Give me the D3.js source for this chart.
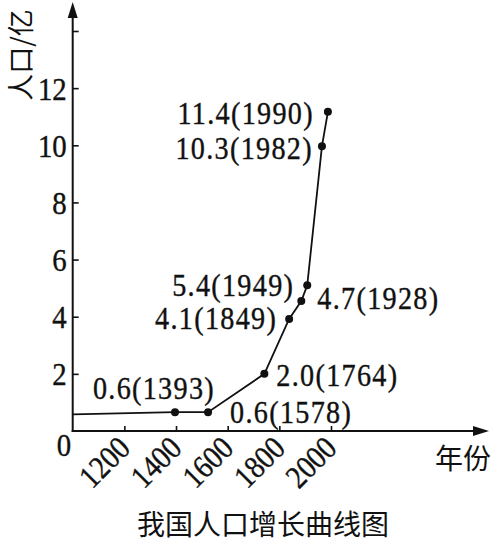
<!DOCTYPE html>
<html>
<head>
<meta charset="utf-8">
<script src="https://cdn.jsdelivr.net/npm/d3@7"></script>
<style>
  body { margin: 0; background: #fff; }
  svg { display: block; }
  .cjk { font-family: "Noto Sans CJK SC", sans-serif; fill: #111; }
</style>
</head>
<body>
<div id="chart"></div>
<script>
// positions of the points as drawn in the picture (year, population in 亿)
var plotYear = [1000, 1396, 1524, 1742, 1838, 1885, 1908, 1965, 1988];
var plotPop = [0.58, 0.66, 0.66, 2.0, 3.92, 4.55, 5.1, 9.97, 11.17];

// annotations written next to the points (skip the start point)
var labelPop = ['0.6', '0.6', '2.0', '4.1', '4.7', '5.4', '10.3', '11.4'];
var labelYear = ['1393', '1578', '1764', '1849', '1928', '1949', '1982', '1990'];

var xTicks = [1200, 1400, 1600, 1800, 2000];
var yTicks = [2, 4, 6, 8, 10, 12, 14];

var width = 498;
var height = 544;

var serif = '"Liberation Serif", "DejaVu Serif", "Times New Roman", serif';
var ink = '#111';

function numText(sel) {
    sel.style('font-family', serif)
        .style('font-size', '32px')
        .style('fill', ink)
        .style('stroke', ink)
        .style('stroke-width', '0.4px');
}

var svg = d3.select('#chart')
    .append('svg')
    .attr('width', width)
    .attr('height', height);

// scales
var x = d3.scaleLinear().domain([1000, 2000]).range([72.7, 331]);
var y = d3.scaleLinear().domain([0, 14]).range([431, 31]);

// y axis
var yaxis = d3.axisLeft(y)
    .tickValues(yTicks)
    .tickSizeInner(-6)
    .tickSizeOuter(0)
    .tickFormat(function(d) { return d == 14 ? '' : d; });

var gy = svg.append('g')
    .attr('transform', 'translate(' + x(1000) + ',0)')
    .call(yaxis);
gy.select('.domain').remove();
gy.selectAll('line').attr('stroke', ink).attr('stroke-width', 1.6);
gy.selectAll('text')
    .call(numText)
    .attr('dy', null)
    .attr('x', null)
    .attr('text-anchor', 'end')
    .attr('transform', 'translate(-6,11) scale(0.9,1)');

// x axis
var xaxis = d3.axisBottom(x)
    .tickValues(xTicks)
    .tickSizeInner(-5)
    .tickSizeOuter(0)
    .tickFormat(d3.format('d'));

var gx = svg.append('g')
    .attr('transform', 'translate(0,' + y(0) + ')')
    .call(xaxis);
gx.select('.domain').remove();
gx.selectAll('line').attr('stroke', ink).attr('stroke-width', 1.6);
gx.selectAll('text')
    .call(numText)
    .attr('y', null)
    .attr('dy', null)
    .attr('text-anchor', 'end')
    .attr('transform', 'translate(7,19) rotate(-45) scale(0.88,1)');

// axis lines with arrows
var x0 = x(1000), y0 = y(0);
var xEnd = 489, yEnd = 2;
svg.append('line')
    .attr('x1', x0).attr('y1', y0 + 1)
    .attr('x2', x0).attr('y2', yEnd + 10)
    .attr('stroke', ink).attr('stroke-width', 2);
svg.append('path')
    .attr('d', 'M' + x0 + ',' + yEnd + 'L' + (x0 - 5) + ',' + (yEnd + 16) + 'L' + (x0 + 5) + ',' + (yEnd + 16) + 'Z')
    .attr('fill', ink);
svg.append('line')
    .attr('x1', x0 - 1).attr('y1', y0)
    .attr('x2', xEnd - 10).attr('y2', y0)
    .attr('stroke', ink).attr('stroke-width', 2);
svg.append('path')
    .attr('d', 'M' + xEnd + ',' + y0 + 'L' + (xEnd - 16) + ',' + (y0 - 5) + 'L' + (xEnd - 16) + ',' + (y0 + 5) + 'Z')
    .attr('fill', ink);

// origin
svg.append('text')
    .call(numText)
    .attr('text-anchor', 'middle')
    .attr('transform', 'translate(64,456) scale(0.9,1)')
    .text('0');

// axis titles
svg.append('text')
    .attr('class', 'cjk')
    .attr('font-size', 27)
    .attr('text-anchor', 'middle')
    .attr('dominant-baseline', 'central')
    .attr('transform', 'translate(19,55) rotate(-90)')
    .text('人口/亿');

svg.append('text')
    .attr('class', 'cjk')
    .attr('font-size', 28)
    .attr('text-anchor', 'middle')
    .attr('dominant-baseline', 'central')
    .attr('x', 463)
    .attr('y', 457)
    .text('年份');

svg.append('text')
    .attr('class', 'cjk')
    .attr('font-size', 28)
    .attr('text-anchor', 'middle')
    .attr('dominant-baseline', 'central')
    .attr('x', 263)
    .attr('y', 523)
    .text('我国人口增长曲线图');

// curve
var pts = plotYear.map(function(d, i) { return [d, plotPop[i]]; });
var line = d3.line()
    .x(function(d) { return x(d[0]); })
    .y(function(d) { return y(d[1]); });

svg.append('path')
    .datum(pts)
    .attr('d', line)
    .attr('fill', 'none')
    .attr('stroke', ink)
    .attr('stroke-width', 1.8);

svg.selectAll('circle')
    .data(pts.slice(1))
    .enter()
    .append('circle')
    .attr('cx', function(d) { return x(d[0]); })
    .attr('cy', function(d) { return y(d[1]); })
    .attr('r', 4)
    .attr('fill', ink);

// label offsets from each dot: [dx, dy, anchor]
var labelPos = [
    [40, -24, 'end'],
    [22, 0, 'start'],
    [12, 1, 'start'],
    [-12, -1, 'end'],
    [16, -3, 'start'],
    [-13, 0, 'end'],
    [-9, 2, 'end'],
    [-14, 1, 'end']
];

svg.selectAll('text.lab')
    .data(pts.slice(1))
    .enter()
    .append('text')
    .attr('class', 'lab')
    .call(numText)
    .attr('letter-spacing', 1.5)
    .attr('text-anchor', function(d, i) { return labelPos[i][2]; })
    .attr('transform', function(d, i) {
        return 'translate(' + (x(d[0]) + labelPos[i][0]) + ',' + (y(d[1]) + labelPos[i][1] + 11) + ') scale(0.88,1)';
    })
    .text(function(d, i) { return labelPop[i] + '(' + labelYear[i] + ')'; });
</script>
</body>
</html>
